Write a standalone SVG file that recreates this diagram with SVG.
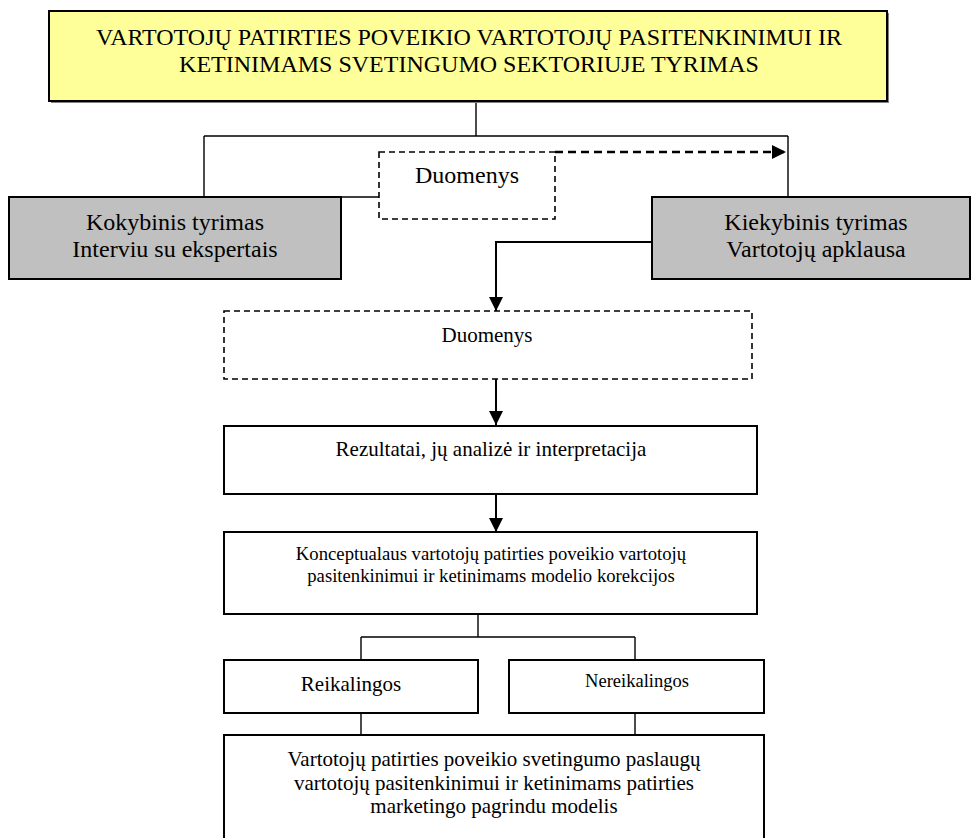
<svg xmlns="http://www.w3.org/2000/svg" width="972" height="838" viewBox="0 0 972 838">
<style>
text{font-family:"Liberation Serif","Times New Roman",serif;fill:#000;text-anchor:middle}
.box{fill:#fff;stroke:#000;stroke-width:2}
.gray{fill:#c0c0c0;stroke:#000;stroke-width:2}
.dash{fill:#fff;stroke:#000;stroke-width:1.6;stroke-dasharray:6,4}
.ln{fill:none;stroke:#000;stroke-width:1.4}
.arr{fill:none;stroke:#000;stroke-width:2}
.darr{fill:none;stroke:#000;stroke-width:2.5;stroke-dasharray:8,5}
</style>
<defs>
<marker id="ah" viewBox="0 0 14 14" refX="14" refY="7" markerWidth="14" markerHeight="14" markerUnits="userSpaceOnUse" orient="auto">
<path d="M0,0 L14,7 L0,14 Z" fill="#000"/>
</marker>
</defs>
<rect width="972" height="838" fill="#fff"/>
<g id="connectors">
<path class="ln" d="M476,101 V136 M204,136 H788 M204,136 V197 M788,136 V197"/>
<path class="ln" d="M341,197 H379"/>
<path class="darr" d="M555,152 H786" marker-end="url(#ah)"/>
<path class="arr" d="M652,242 H496 V311" marker-end="url(#ah)"/>
<path class="arr" d="M496,379 V425" marker-end="url(#ah)"/>
<path class="arr" d="M496,494 V532" marker-end="url(#ah)"/>
<path class="ln" d="M478,614 V637 M361,637 H635 M361,637 V660 M635,637 V660"/>
<path class="ln" d="M361,713 V735 M635,713 V735"/>
</g>
<g id="title">
<rect x="51" y="13" width="838" height="90" fill="#808080"/>
<rect x="49" y="11" width="838" height="90" fill="#ffff99" stroke="#000" stroke-width="2"/>
<text x="469" y="44.5" font-size="24">VARTOTOJŲ PATIRTIES POVEIKIO VARTOTOJŲ PASITENKINIMUI IR</text>
<text x="469" y="71.5" font-size="24">KETINIMAMS SVETINGUMO SEKTORIUJE TYRIMAS</text>
</g>
<g id="kokybinis">
<rect class="gray" x="9" y="197" width="332" height="82"/>
<text x="175" y="230" font-size="24">Kokybinis tyrimas</text>
<text x="175" y="256.5" font-size="24">Interviu su ekspertais</text>
</g>
<g id="duomenys1">
<rect class="dash" x="379" y="152" width="176" height="67"/>
<text x="467" y="183" font-size="24">Duomenys</text>
</g>
<g id="kiekybinis">
<rect class="gray" x="652" y="197" width="318" height="82"/>
<text x="816" y="230" font-size="24">Kiekybinis tyrimas</text>
<text x="816" y="256.5" font-size="24">Vartotojų apklausa</text>
</g>
<g id="duomenys2">
<rect class="dash" x="224" y="311" width="528" height="68"/>
<text x="487" y="342" font-size="21">Duomenys</text>
</g>
<g id="rezultatai">
<rect class="box" x="224" y="426" width="533" height="68"/>
<text x="491" y="456" font-size="21">Rezultatai, jų analizė ir interpretacija</text>
</g>
<g id="konceptualaus">
<rect class="box" x="224" y="532" width="533" height="82"/>
<text x="491" y="560" font-size="18.7">Konceptualaus vartotojų patirties poveikio vartotojų</text>
<text x="491" y="582" font-size="18.7">pasitenkinimui ir ketinimams modelio korekcijos</text>
</g>
<g id="reikalingos">
<rect class="box" x="224" y="660" width="254" height="53"/>
<text x="351" y="691" font-size="21">Reikalingos</text>
</g>
<g id="nereikalingos">
<rect class="box" x="509" y="660" width="255" height="53"/>
<text x="637" y="687" font-size="18.5">Nereikalingos</text>
</g>
<g id="modelis">
<rect class="box" x="224" y="735" width="540" height="120"/>
<text x="494" y="766" font-size="21">Vartotojų patirties poveikio svetingumo paslaugų</text>
<text x="494" y="790" font-size="21">vartotojų pasitenkinimui ir ketinimams patirties</text>
<text x="494" y="813" font-size="21">marketingo pagrindu modelis</text>
</g>
</svg>
